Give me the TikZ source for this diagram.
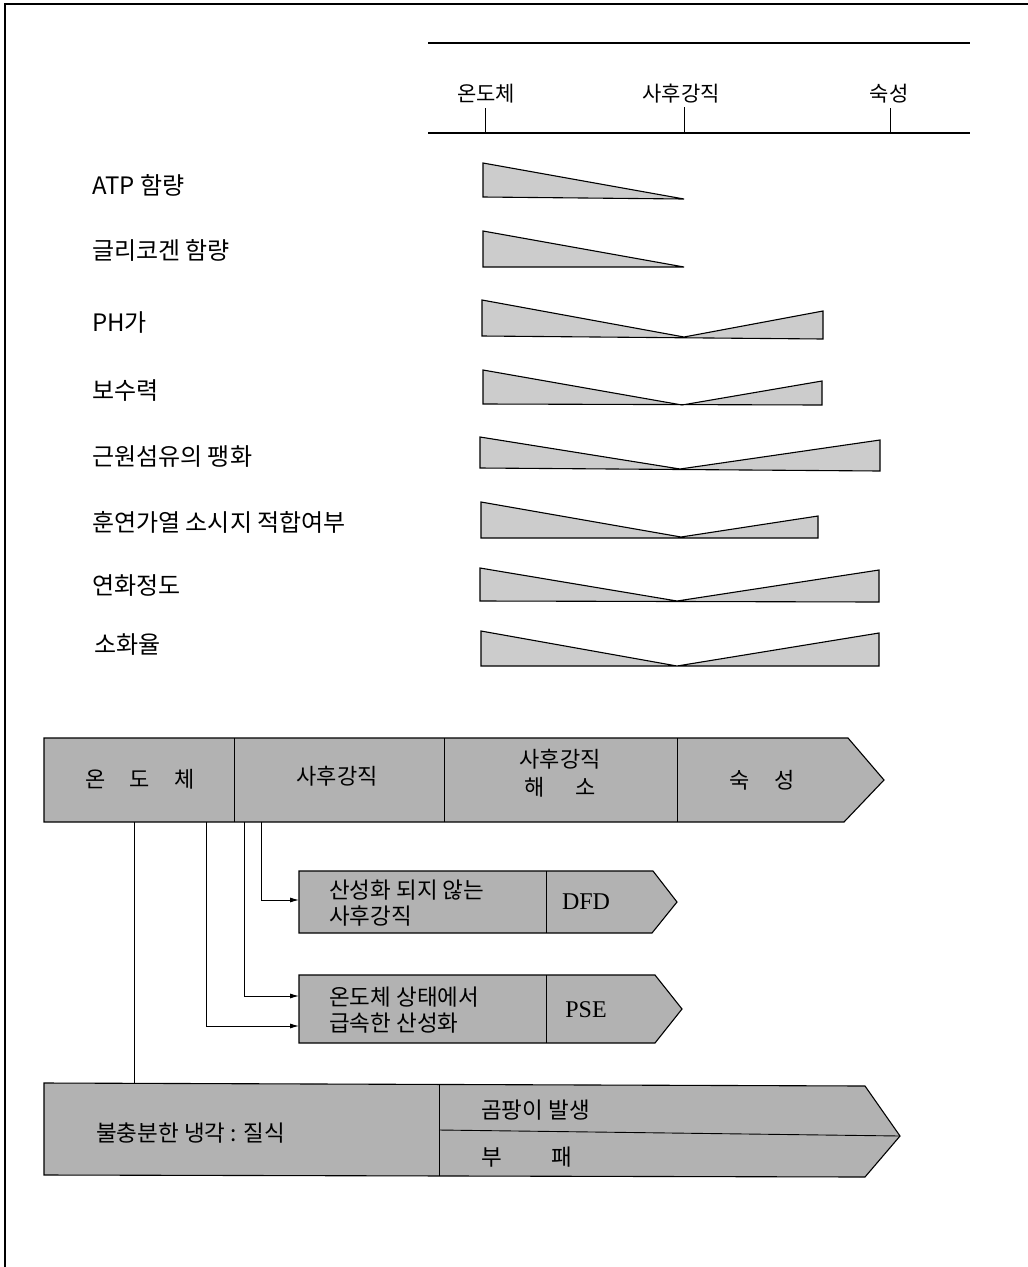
\documentclass[tikz,border=0pt]{standalone}
\usepackage{fontspec}
\setmainfont{Noto Sans CJK KR}
\newfontfamily\latserif{Liberation Serif}
\usetikzlibrary{arrows.meta}
\tikzset{
  wedge/.style={draw=black, fill=black!20, line width=1.1pt, line join=miter},
  boxshape/.style={draw=black, fill=black!30, line width=1.1pt, line join=miter},
  conn/.style={line width=0.9pt},
  arr/.style={conn, -{Latex[length=9pt,width=5pt]}},
  lbl/.style={anchor=west, inner sep=0pt, font=\fontsize{24}{28}\selectfont},
  tl/.style={inner sep=0pt, font=\fontsize{21}{24}\selectfont},
  bt/.style={inner sep=0pt, font=\fontsize{22}{26}\selectfont, align=center},
  btl/.style={inner sep=0pt, font=\fontsize{22.5}{26}\selectfont, align=left, anchor=west},
  rule/.style={line width=1.3pt}
}
\begin{document}
\begin{tikzpicture}[x=1pt,y=-1pt]
\useasboundingbox (0,0) rectangle (1028,1267);
% frame
\draw[line width=1.5pt] (5,1267) -- (5,4) -- (1028,4);
% timeline
\draw[rule] (428,43) -- (970,43);
\draw[rule] (428,133) -- (970,133);
\draw[conn] (485,108) -- (485,133);
\draw[conn] (684,107) -- (684,133);
\draw[conn] (890,108) -- (890,133);
\node[tl] (t1) at (486,94) {온도체};
\node[tl] (t2) at (681,94) {사후강직};
\node[tl] (t3) at (889,94) {숙성};
% row labels
\node[lbl] (l1) at (92,185) {ATP 함량};
\node[lbl] (l2) at (92,250) {글리코겐 함량};
\node[lbl] (l3) at (92,322) {PH가};
\node[lbl] (l4) at (92,391) {보수력};
\node[lbl] (l5) at (92,457) {근원섬유의 팽화};
\node[lbl] (l6) at (92,522) {훈연가열 소시지 적합여부};
\node[lbl] (l7) at (92,586) {연화정도};
\node[lbl] (l8) at (94,645) {소화율};
% wedges
\draw[wedge] (483,163) -- (684,199) -- (483,197) -- cycle;
\draw[wedge] (483,231) -- (684,267) -- (483,267) -- cycle;
\draw[wedge] (482,300) -- (684,337) -- (823,311) -- (823,339) -- (482,336) -- cycle;
\draw[wedge] (483,370) -- (682,405) -- (822,381) -- (822,405) -- (483,404) -- cycle;
\draw[wedge] (480,437) -- (680,469) -- (880,440) -- (880,471) -- (480,468) -- cycle;
\draw[wedge] (481,502) -- (681,537) -- (818,516) -- (818,538) -- (481,538) -- cycle;
\draw[wedge] (480,568) -- (677,601) -- (879,570) -- (879,602) -- (480,601) -- cycle;
\draw[wedge] (481,631) -- (677,666) -- (879,633) -- (879,666) -- (481,666) -- cycle;
% top band
\draw[boxshape] (44,738) -- (848,738) -- (884,780) -- (844,822) -- (44,822) -- cycle;
\draw[conn] (234,738) -- (234,822);
\draw[conn] (444,738) -- (444,822);
\draw[conn] (677,738) -- (677,822);
\node[bt] (b1) at (140,779) {온\hspace{1.1em}도\hspace{1.1em}체};
\node[bt] (b2) at (337,776) {사후강직};
\node[bt] (b3a) at (560,759) {사후강직};
\node[bt] (b3b) at (560,787) {해\hspace{1.4em}소};
\node[bt] (b4) at (762,780) {숙\hspace{1.1em}성};
% DFD box
\draw[boxshape] (299,871) -- (653,871) -- (677,902) -- (652,933) -- (299,933) -- cycle;
\draw[conn] (546,871) -- (546,933);
\node[btl] (d1) at (329,903) {산성화 되지 않는\\사후강직};
\node[bt, font=\fontsize{24}{26}\latserif] (d2) at (586,902) {DFD};
% PSE box
\draw[boxshape] (299,975) -- (655,975) -- (682,1009) -- (655,1043) -- (299,1043) -- cycle;
\draw[conn] (546,975) -- (546,1043);
\node[btl] (p1) at (329,1010) {온도체 상태에서\\급속한 산성화};
\node[bt, font=\fontsize{24}{26}\latserif] (p2) at (586,1010) {PSE};
% bottom box
\draw[boxshape] (44,1083) -- (865,1086) -- (900,1136) -- (865,1177) -- (44,1175) -- cycle;
\draw[conn] (439,1084) -- (439,1176);
\draw[conn] (439,1130) -- (900,1136);
\node[btl] (f1) at (96,1133) {불충분한 냉각 : 질식};
\node[btl] (f2) at (481,1110) {곰팡이 발생};
\node[btl] (f3) at (481,1157) {부\hspace{2.2em}패};
% connectors
\coordinate (c1) at (261,822);
\coordinate (c2) at (244,822);
\coordinate (c3) at (206,822);
\coordinate (c4) at (134,822);
\coordinate (e1) at (299,900);
\coordinate (e2) at (299,996);
\coordinate (e3) at (299,1026);
\coordinate (e4) at (134,1083);
\draw[arr] (c1) |- (e1);
\draw[arr] (c2) |- (e2);
\draw[arr] (c3) |- (e3);
\draw[conn] (c4) -- (e4);
\end{tikzpicture}
\end{document}
